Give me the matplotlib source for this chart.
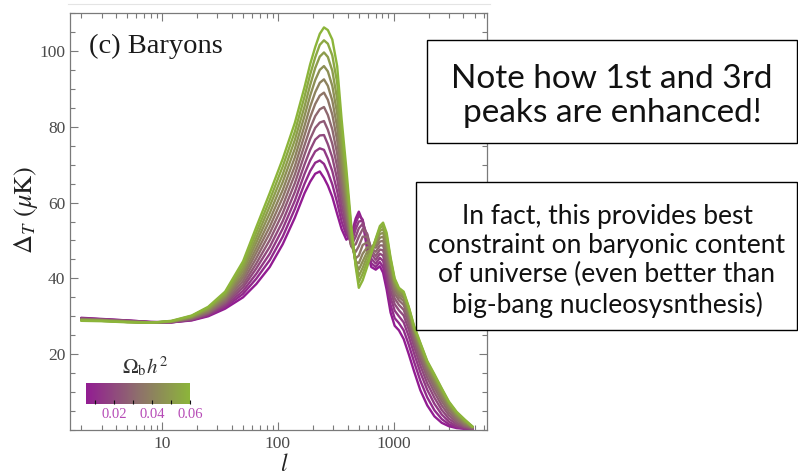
import matplotlib
matplotlib.use("Agg")
import matplotlib.pyplot as plt
import matplotlib.colors as mcolors
import matplotlib.colorbar as mcolorbar
from matplotlib.patches import Rectangle
from matplotlib.lines import Line2D
from matplotlib.ticker import FixedLocator, FixedFormatter, NullFormatter, MultipleLocator, LogLocator

plt.rcParams['font.family'] = ['Liberation Serif', 'DejaVu Serif']
plt.rcParams['mathtext.fontset'] = 'stix'

# ---------------- data ----------------
multipole_l = [2, 3, 5, 8, 12, 18, 25, 35, 50, 65, 85, 110, 140, 170, 190, 210, 230, 250,
               270, 295, 325, 355, 390, 430, 470, 500, 540, 590, 640, 700, 760, 810, 870,
               940, 1020, 1110, 1220, 1350, 1500, 1700, 1950, 2250, 2600, 3000, 3500, 4100, 4800]

omega_b_h2 = [0.005, 0.010, 0.015, 0.020, 0.025, 0.030, 0.035, 0.040, 0.045, 0.050, 0.055, 0.060]

dT_0005 = [29.6, 29.3, 28.9, 28.5, 28.4, 28.9, 30.0, 32.0, 35.0, 38.5, 43.0, 49.0, 56.0, 62.5, 65.5, 67.6, 68.2, 66.5,
           64.5, 61.5, 57.0, 53.0, 50.2, 51.5, 55.8, 57.6, 55.0, 47.5, 43.0, 42.3, 43.2, 41.5, 37.0,
           31.0, 27.5, 26.3, 24.0, 20.0, 15.5, 10.5, 6.5, 3.6, 1.9, 1.0, 0.5, 0.3, 0.2]
dT_0010 = [29.5, 29.2, 28.9, 28.5, 28.4, 29.0, 30.2, 32.4, 35.9, 39.9, 44.8, 51.0, 58.3, 65.0, 68.3, 70.5, 71.1, 70.2,
           68.0, 64.8, 60.0, 55.0, 51.4, 50.2, 54.6, 56.6, 55.5, 49.0, 44.0, 43.0, 44.3, 43.0, 38.8,
           33.0, 29.5, 28.2, 26.3, 22.5, 18.0, 13.0, 8.6, 5.2, 2.9, 1.5, 0.7, 0.4, 0.2]
dT_0015 = [29.4, 29.2, 28.8, 28.4, 28.4, 29.1, 30.4, 32.8, 36.7, 41.2, 46.5, 53.1, 60.5, 67.6, 71.1, 73.5, 74.3, 73.9,
           71.6, 68.3, 63.0, 57.2, 52.7, 49.2, 53.0, 55.0, 55.2, 50.5, 45.2, 43.9, 45.4, 44.6, 40.5,
           35.0, 31.5, 30.0, 28.4, 24.7, 20.2, 15.2, 10.6, 6.9, 4.1, 2.2, 1.0, 0.5, 0.3]
dT_0020 = [29.4, 29.1, 28.8, 28.4, 28.5, 29.2, 30.6, 33.2, 37.6, 42.6, 48.3, 55.1, 62.8, 70.1, 73.9, 76.6, 77.7, 77.8,
           75.4, 71.9, 66.2, 59.4, 54.0, 48.6, 51.0, 53.2, 54.4, 51.5, 46.5, 44.9, 46.5, 46.0, 42.2,
           36.8, 33.2, 31.6, 30.2, 26.5, 22.0, 17.0, 12.3, 8.5, 5.3, 3.0, 1.5, 0.7, 0.3]
dT_0025 = [29.3, 29.1, 28.7, 28.4, 28.5, 29.3, 30.8, 33.6, 38.4, 43.9, 50.1, 57.2, 65.1, 72.7, 76.8, 79.7, 81.1, 81.5,
           79.2, 75.5, 69.5, 61.8, 55.5, 48.4, 49.0, 51.0, 53.0, 51.8, 47.5, 45.9, 47.6, 47.4, 43.8,
           38.5, 34.7, 33.0, 31.7, 28.0, 23.4, 18.5, 13.8, 9.9, 6.5, 3.9, 2.0, 0.9, 0.4]
dT_0030 = [29.2, 29.0, 28.7, 28.4, 28.5, 29.4, 31.0, 34.0, 39.3, 45.3, 51.9, 59.2, 67.4, 75.2, 79.6, 82.8, 84.6, 85.2,
           83.1, 79.3, 72.9, 64.3, 57.0, 48.6, 47.0, 48.5, 51.0, 51.0, 48.0, 47.0, 48.7, 48.7, 45.3,
           40.0, 36.0, 34.2, 33.0, 29.3, 24.5, 19.7, 15.0, 11.1, 7.6, 4.7, 2.6, 1.2, 0.5]
dT_0035 = [29.2, 29.0, 28.6, 28.3, 28.6, 29.6, 31.3, 34.5, 40.2, 46.7, 53.6, 61.3, 69.6, 77.8, 82.5, 86.0, 88.2, 89.0,
           87.1, 83.2, 76.4, 66.9, 58.6, 49.2, 45.3, 46.0, 48.8, 49.5, 48.2, 48.1, 49.7, 49.9, 46.8,
           41.4, 37.0, 35.1, 34.0, 30.2, 25.4, 20.6, 16.0, 12.1, 8.5, 5.5, 3.1, 1.5, 0.6]
dT_0040 = [29.1, 28.9, 28.6, 28.3, 28.6, 29.7, 31.5, 34.9, 41.0, 48.0, 55.4, 63.3, 71.9, 80.3, 85.3, 89.1, 91.6, 92.5,
           90.8, 86.9, 79.9, 69.6, 60.3, 50.0, 44.4, 44.0, 46.5, 48.2, 48.0, 48.9, 50.7, 51.0, 48.1,
           42.6, 37.8, 35.8, 34.8, 30.9, 26.0, 21.3, 16.7, 12.9, 9.3, 6.1, 3.6, 1.8, 0.7]
dT_0045 = [29.0, 28.9, 28.5, 28.3, 28.6, 29.8, 31.8, 35.3, 41.9, 49.4, 57.2, 65.4, 74.2, 82.9, 88.2, 92.3, 95.0, 96.0,
           94.6, 90.8, 83.5, 72.4, 62.2, 50.9, 44.2, 42.3, 44.5, 47.0, 47.8, 49.5, 51.7, 52.0, 49.3,
           43.6, 38.5, 36.4, 35.4, 31.5, 26.5, 21.9, 17.3, 13.5, 9.9, 6.6, 4.0, 2.1, 0.8]
dT_0050 = [29.0, 28.8, 28.5, 28.3, 28.7, 29.9, 32.0, 35.7, 42.7, 50.7, 59.0, 67.4, 76.5, 85.4, 91.0, 95.5, 98.5, 99.6,
           98.4, 94.8, 87.3, 75.4, 64.3, 51.9, 44.0, 40.6, 42.8, 45.8, 47.5, 50.0, 52.5, 53.0, 50.3,
           44.4, 39.1, 36.9, 35.9, 32.0, 26.9, 22.4, 17.7, 14.0, 10.4, 7.0, 4.3, 2.4, 0.8]
dT_0055 = [28.9, 28.8, 28.5, 28.3, 28.7, 30.1, 32.3, 36.1, 43.6, 52.1, 60.7, 69.5, 78.7, 88.0, 93.8, 98.3, 101.6, 102.8,
           101.9, 98.8, 91.6, 78.6, 66.6, 52.9, 43.6, 39.0, 41.2, 44.4, 47.0, 50.3, 53.2, 53.9, 51.2,
           45.0, 39.6, 37.2, 36.2, 32.3, 27.2, 22.8, 18.0, 14.4, 10.8, 7.3, 4.6, 2.6, 0.9]
dT_0060 = [28.8, 28.7, 28.4, 28.3, 28.8, 30.2, 32.5, 36.5, 44.5, 53.5, 62.5, 71.5, 81.0, 90.5, 96.5, 101.0, 104.5, 106.2,
           105.5, 103.0, 96.0, 82.0, 69.0, 54.0, 43.0, 37.5, 39.5, 43.0, 46.5, 50.5, 53.8, 54.7, 52.0,
           45.5, 40.0, 37.5, 36.5, 32.5, 27.5, 23.0, 18.2, 14.7, 11.0, 7.5, 4.8, 2.8, 0.9]

curves = [dT_0005, dT_0010, dT_0015, dT_0020, dT_0025, dT_0030,
          dT_0035, dT_0040, dT_0045, dT_0050, dT_0055, dT_0060]

cbar_ticks = [0.01, 0.02, 0.03, 0.04, 0.05, 0.06]
cbar_ticklabels = ['', '0.02', '', '0.04', '', '0.06']
x_major_ticks = [10, 100, 1000]
x_major_labels = ['10', '100', '1000']
y_major_ticks = [20, 40, 60, 80, 100]

note1 = "Note how 1st and 3rd\npeaks are enhanced!"
note2 = ("In fact, this provides best\nconstraint on baryonic content\n"
         "of universe (even better than\nbig-bang nucleosysnthesis)")

# ---------------- figure ----------------
W, H = 798, 475
fig = plt.figure(figsize=(W / 100, H / 100), dpi=100)
fig.patch.set_facecolor('white')

def fx(px):
    return px / W

def fy(py):
    return 1 - py / H

ax = fig.add_axes([fx(70), fy(430), fx(487) - fx(70), fy(13) - fy(430)])

cmap = mcolors.LinearSegmentedColormap.from_list(
    'pg', ['#921c92', '#8e6f6c', '#8cb53a'])
norm = mcolors.Normalize(vmin=min(omega_b_h2), vmax=max(omega_b_h2))

for ob, vals in zip(omega_b_h2, curves):
    ax.plot(multipole_l, vals, color=cmap(norm(ob)), lw=1.7,
            solid_joinstyle='round', solid_capstyle='round')

ax.set_xscale('log')
ax.set_xlim(1.6, 6400)
ax.set_ylim(0, 110)

spine_col = '#7a7a7a'
for s in ax.spines.values():
    s.set_color(spine_col)
    s.set_linewidth(0.9)

ax.xaxis.set_major_locator(FixedLocator(x_major_ticks))
ax.xaxis.set_major_formatter(FixedFormatter(x_major_labels))
ax.xaxis.set_minor_locator(LogLocator(base=10, subs=range(2, 10)))
ax.xaxis.set_minor_formatter(NullFormatter())
ax.yaxis.set_major_locator(FixedLocator(y_major_ticks))
ax.yaxis.set_minor_locator(MultipleLocator(5))

ax.tick_params(which='both', direction='in', top=True, right=True, colors=spine_col,
               labelcolor='#4a4a4a', labelsize=12.5, width=0.8)
ax.tick_params(which='major', length=6)
ax.tick_params(which='minor', length=3.5)
ax.tick_params(axis='x', which='major', pad=4)

ax.set_ylabel(r'$\Delta_T\ (\mu{\rm K})$', fontsize=19, color='#222222')
ax.yaxis.set_label_coords(-0.072, 0.527)
ax.set_xlabel(r'$l$', fontsize=17, color='#222222')
ax.xaxis.set_label_coords(0.515, -0.058)
ax.xaxis.label.set_va('top')

ax.text(0.046, 0.905, '(c) Baryons', transform=ax.transAxes, fontsize=20.5,
        color='#1a1a1a', va='baseline', ha='left')

# colour bar legend
cax = fig.add_axes([fx(86), fy(404), fx(190) - fx(86), fy(383) - fy(404)])
cb = mcolorbar.ColorbarBase(cax, cmap=cmap, norm=norm, orientation='horizontal')
cb.outline.set_visible(False)
cb.set_ticks(cbar_ticks)
cb.set_ticklabels(cbar_ticklabels)
cax.tick_params(direction='in', length=3, width=0.8, color='#111111',
                labelcolor='#b64ab6', labelsize=10.5, pad=3)
fig.text(fx(145), fy(374), r'$\Omega_{\rm b}h^2$', fontsize=15, color='#333333',
         ha='center', va='baseline')

# faint page line at top
fig.add_artist(Line2D([fx(68), fx(490)], [fy(4), fy(4)], color='#e4e4e4', lw=0.8))

# annotation boxes
box1 = Rectangle((fx(427), fy(143)), fx(797) - fx(427), fy(40) - fy(143),
                 transform=fig.transFigure, facecolor='white', edgecolor='black',
                 lw=1.0, zorder=5)
fig.add_artist(box1)
fig.text(fx(612), fy(96), note1, fontsize=24, family='Lato', ha='center', va='center',
         linespacing=1.2, zorder=6, color='#111111')

box2 = Rectangle((fx(416), fy(330)), fx(797) - fx(416), fy(182) - fy(330),
                 transform=fig.transFigure, facecolor='white', edgecolor='black',
                 lw=1.0, zorder=5)
fig.add_artist(box2)
fig.text(fx(607), fy(261), note2, fontsize=19, family='Lato', ha='center', va='center',
         linespacing=1.2, zorder=6, color='#111111')

fig.savefig('out.png', dpi=100)
